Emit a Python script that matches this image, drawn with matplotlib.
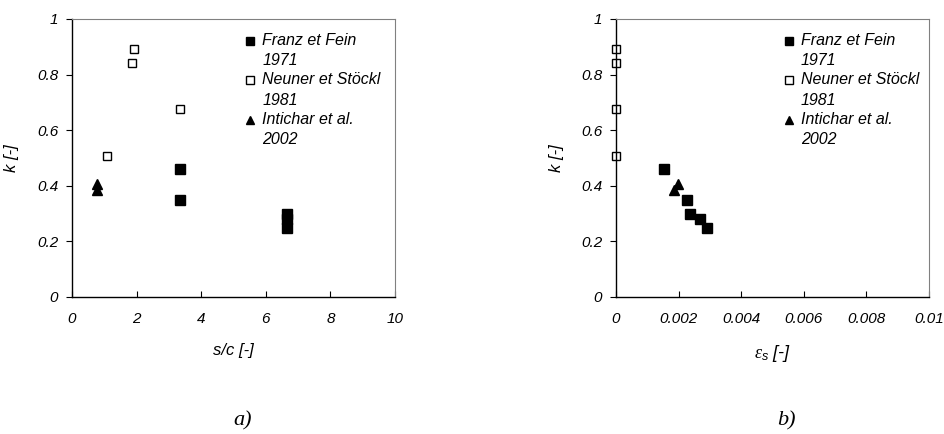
import matplotlib
matplotlib.use("Agg")
import matplotlib.pyplot as plt
from matplotlib.ticker import FixedLocator, FixedFormatter
from matplotlib.legend_handler import HandlerLine2D
from matplotlib.lines import Line2D

plt.rcParams['font.family'] = ['Liberation Sans', 'DejaVu Sans']
plt.rcParams['mathtext.fontset'] = 'custom'
plt.rcParams['mathtext.it'] = 'Liberation Serif:italic'
plt.rcParams['mathtext.rm'] = 'Liberation Sans:italic'

# ---- data ----
franz_sc = [3.33, 3.33, 6.67, 6.67, 6.67]
franz_k = [0.46, 0.35, 0.30, 0.28, 0.25]
franz_eps = [0.00153, 0.00227, 0.00237, 0.00267, 0.00292]

neuner_sc = [1.07, 1.87, 1.93, 3.35]
neuner_k = [0.507, 0.843, 0.892, 0.675]
neuner_eps = [0.0, 0.0, 0.0, 0.0]

inti_sc = [0.76, 0.76]
inti_k = [0.385, 0.405]
inti_eps = [0.00186, 0.00197]

labels = ["Franz et Fein\n1971", "Neuner et Stöckl\n1981", "Intichar et al.\n2002"]
y_ticks = [0, 0.2, 0.4, 0.6, 0.8, 1]
y_ticklabels = ["0", "0.2", "0.4", "0.6", "0.8", "1"]
xa_ticks = [0, 2, 4, 6, 8, 10]
xa_ticklabels = ["0", "2", "4", "6", "8", "10"]
xb_ticks = [0, 0.002, 0.004, 0.006, 0.008, 0.01]
xb_ticklabels = ["0", "0.002", "0.004", "0.006", "0.008", "0.01"]


class TopHandler(HandlerLine2D):
    """Place the legend marker level with the first line of a two-line label."""
    def create_artists(self, legend, orig_handle, xdescent, ydescent,
                       width, height, fontsize, trans):
        return super().create_artists(legend, orig_handle, xdescent,
                                       ydescent - 1.25 * fontsize,
                                       width, height, fontsize, trans)


fig = plt.figure(figsize=(9.44, 4.34), dpi=100)
ax1 = fig.add_axes([72/944, 1-297/434, 323/944, 278/434])
ax2 = fig.add_axes([616/944, 1-297/434, 313/944, 278/434])

ms = 6.5
for ax, xs, xlim, xt, xtl, xlabel, sub, subx in [
        (ax1, (franz_sc, neuner_sc, inti_sc), (0, 10), xa_ticks, xa_ticklabels,
         "s/c [-]", "a)", 243),
        (ax2, (franz_eps, neuner_eps, inti_eps), (0, 0.01), xb_ticks, xb_ticklabels,
         r"$\varepsilon_{\mathrm{s}}$ [-]", "b)", 786)]:
    h1, = ax.plot(xs[0], franz_k, 's', color='black', ms=ms, mec='black', clip_on=False)
    h2, = ax.plot(xs[1], neuner_k, 's', mfc='white', mec='black', ms=ms-0.5, mew=1.0, clip_on=False)
    h3, = ax.plot(xs[2], inti_k, '^', color='black', ms=ms+0.5, clip_on=False)
    ax.set_xlim(*xlim)
    ax.set_ylim(0, 1)
    ax.xaxis.set_major_locator(FixedLocator(xt))
    ax.xaxis.set_major_formatter(FixedFormatter(xtl))
    ax.yaxis.set_major_locator(FixedLocator(y_ticks))
    ax.yaxis.set_major_formatter(FixedFormatter(y_ticklabels))
    for s in ['top', 'right']:
        ax.spines[s].set_color('#808080')
        ax.spines[s].set_linewidth(0.8)
    for s in ['left', 'bottom']:
        ax.spines[s].set_color('black')
        ax.spines[s].set_linewidth(1.0)
    ax.tick_params(axis='y', direction='out', length=4, width=0.8, pad=6, labelsize=11)
    ax.tick_params(axis='x', direction='in', length=4, width=0.8, pad=11, labelsize=11)
    for lab in ax.get_xticklabels() + ax.get_yticklabels():
        lab.set_fontstyle('italic')
    ax.set_ylabel("k [-]", fontsize=12, fontstyle='italic')
    ax.set_xlabel(xlabel, fontsize=12 if ax is ax1 else 13, fontstyle='italic')
    ax.yaxis.set_label_coords(-0.165, 0.5)
    ax.xaxis.set_label_coords(0.5, -0.165)
    leg = ax.legend([h1, h2, h3], labels, loc='upper left',
                    bbox_to_anchor=(0.537, 0.95), frameon=False,
                    handlelength=0.6, handletextpad=0.45, labelspacing=0.25,
                    borderaxespad=0, borderpad=0,
                    prop={'size': 11.5, 'style': 'italic'},
                    handler_map={Line2D: TopHandler()})
    for hnd, size in zip(leg.legend_handles, [5.4, 5.6, 5.8]):
        hnd.set_markersize(size)
    for t in leg.get_texts():
        t.set_linespacing(1.45)
    fig.text(subx / 944, 1 - 421 / 434, sub, ha='center', va='center',
             fontsize=16, fontstyle='italic', family='Liberation Serif')

fig.savefig("out.png", dpi=100)
